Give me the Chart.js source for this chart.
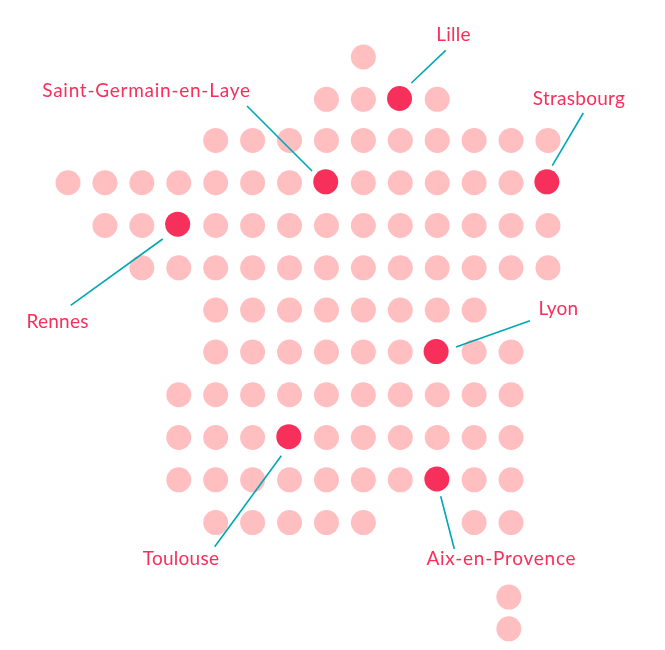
<!DOCTYPE html>
<html>
<head>
<meta charset="utf-8">
<title>France dot map</title>
<script src="https://cdn.jsdelivr.net/npm/chart.js@4"></script>
<style>
  html, body { margin: 0; padding: 0; background: #fff; }
  #wrap { width: 665px; height: 650px; }
</style>
</head>
<body>
<div id="wrap"><canvas id="map" width="665" height="650"></canvas></div>
<script>
// grid rows, top to bottom (row position on the y axis)
const rowPos = [0, 1, 1.97, 2.97, 3.98, 4.98, 5.98, 6.97, 7.98, 8.99, 9.99, 11];
// which columns are filled in each row
const rowCols = [
  [8],
  [7, 8, 10],
  [4, 5, 6, 7, 8, 9, 10, 11, 12, 13],
  [0, 1, 2, 3, 4, 5, 6, 8, 9, 10, 11, 12],
  [1, 2, 4, 5, 6, 7, 8, 9, 10, 11, 12, 13],
  [2, 3, 4, 5, 6, 7, 8, 9, 10, 11, 12, 13],
  [4, 5, 6, 7, 8, 9, 10, 11],
  [4, 5, 6, 7, 8, 9, 11, 12],
  [3, 4, 5, 6, 7, 8, 9, 10, 11, 12],
  [3, 4, 5, 7, 8, 9, 10, 11, 12],
  [3, 4, 5, 6, 7, 8, 9, 11, 12],
  [4, 5, 6, 7, 8, 11, 12]
];
// the two dots of Corsica sit off the grid
const corsicaCols = [11.94, 11.94];
const corsicaRows = [12.76, 13.51];

// cities
const cityNames = ['Lille', 'Saint-Germain-en-Laye', 'Strasbourg', 'Rennes', 'Lyon', 'Toulouse', 'Aix-en-Provence'];
const cityCols = [8.98, 6.98, 12.97, 2.97, 9.97, 5.98, 9.99];
const cityRows = [0.98, 2.95, 2.95, 3.95, 6.96, 8.97, 9.97];
const labelCols = [10.44, 2.125, 13.84, -0.284, 13.286, 3.06, 11.74];
const labelRows = [-0.39, 0.945, 1.125, 6.395, 6.105, 12.005, 12.005];
// leader lines, city end then label end
const lineFromCols = [9.3, 6.609, 13.117, 2.565, 10.509, 5.777, 10.095];
const lineFromRows = [0.614, 2.693, 2.568, 4.3, 6.851, 9.419, 10.378];
const lineToCols = [10.23, 4.848, 13.957, 0.073, 12.513, 3.973, 10.463];
const lineToRows = [-0.158, 1.158, 1.323, 5.866, 6.23, 11.569, 11.623];

const RED = '#f72f5b';
const PINK = '#ffbfc0';
const TEAL = '#00a7b5';

// grid dots
const gridPoints = [];
rowCols.forEach((cols, i) => {
  cols.forEach((c) => gridPoints.push({ x: c, y: rowPos[i] }));
});
corsicaCols.forEach((c, i) => gridPoints.push({ x: c, y: corsicaRows[i] }));

const cityPoints = cityCols.map((c, i) => ({ x: c, y: cityRows[i] }));

// one small line per city
const leaderSets = cityNames.map((name, i) => ({
  label: name,
  data: [
    { x: lineFromCols[i], y: lineFromRows[i] },
    { x: lineToCols[i], y: lineToRows[i] }
  ],
  showLine: true,
  borderColor: TEAL,
  borderWidth: 1.6,
  pointRadius: 0,
  order: 2
}));

// city names go on as text, placed through the scales
const cityLabels = {
  id: 'cityLabels',
  afterDatasetsDraw(chart) {
    const { ctx, scales } = chart;
    ctx.save();
    ctx.font = '19px Lato';
    ctx.fillStyle = RED;
    ctx.textAlign = 'center';
    ctx.textBaseline = 'alphabetic';
    cityNames.forEach((name, i) => {
      // the long hyphenated names run wider in the original
      ctx.letterSpacing = name.includes('-') ? '0.75px' : '0.25px';
      ctx.fillText(name, scales.x.getPixelForValue(labelCols[i]), scales.y.getPixelForValue(labelRows[i]));
    });
    ctx.restore();
  }
};

new Chart(document.getElementById('map').getContext('2d'), {
  type: 'scatter',
  data: {
    datasets: [
      { label: 'Villes', data: cityPoints, backgroundColor: RED, borderWidth: 0, pointRadius: 12.5, order: 1 },
      ...leaderSets,
      { label: 'Grille', data: gridPoints, backgroundColor: PINK, borderWidth: 0, pointRadius: 12.5, order: 3 }
    ]
  },
  options: {
    responsive: false,
    animation: false,
    layout: { padding: 0, autoPadding: false },
    plugins: { legend: { display: false }, tooltip: { enabled: false } },
    scales: {
      x: { type: 'linear', display: false, min: -1.842, max: 16.17 },
      y: { type: 'linear', display: false, reverse: true, min: -1.347, max: 14.01 }
    }
  },
  plugins: [cityLabels]
});
</script>
</body>
</html>
